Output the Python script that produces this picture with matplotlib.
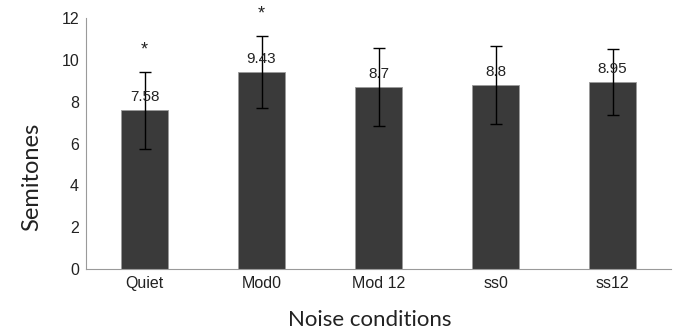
import matplotlib
matplotlib.use("Agg")
import matplotlib.pyplot as plt
import numpy as np

conditions = ["Quiet", "Mod0", "Mod 12", "ss0", "ss12"]
means = [7.58, 9.43, 8.7, 8.8, 8.95]
errors = [1.84, 1.72, 1.85, 1.87, 1.58]
value_labels = ["7.58", "9.43", "8.7", "8.8", "8.95"]
significant = [True, True, False, False, False]

fig = plt.figure(figsize=(6.74, 3.33), dpi=100)
ax = fig.add_axes([0.1276, 0.192, 0.868, 0.754])

x = np.arange(len(conditions))
ax.bar(x, means, width=0.4, color="#3a3a3a", edgecolor="#9a9a9a", linewidth=0.6, zorder=2)
ax.errorbar(x, means, yerr=errors, fmt="none", ecolor="black", elinewidth=1.0,
            capsize=4, capthick=1.0, zorder=3)

for xi, m, lab in zip(x, means, value_labels):
    ax.text(xi, m + 0.62, lab, ha="center", va="center", fontsize=11,
            family="Liberation Sans", color="#222222", zorder=4)

for xi, m, e, sig in zip(x, means, errors, significant):
    if sig:
        ax.text(xi, m + e + 1.05, "*", ha="center", va="center", fontsize=13,
                family="Liberation Sans", color="#222222", clip_on=False)

ax.set_xlim(-0.5, 4.5)
ax.set_ylim(0, 12)
ax.set_yticks(range(0, 13, 2))
ax.set_xticks(x)
ax.set_xticklabels(conditions, family="Liberation Sans", fontsize=11.5)
for t in ax.get_yticklabels():
    t.set_family("Liberation Sans")
    t.set_fontsize(11.5)
ax.tick_params(axis="both", length=0, pad=5, colors="#222222")

for side in ["top", "right"]:
    ax.spines[side].set_visible(False)
ax.spines["left"].set_color("#9a9a9a")
ax.spines["bottom"].set_color("#9a9a9a")

# axis titles placed directly to match the original positions
fig.text(32 / 674, 1 - 177 / 333, "Semitones", rotation=90, ha="center", va="center",
         family="Lato", fontsize=17, color="#222222")
fig.text(370 / 674, 1 - 320 / 333, "Noise conditions", ha="center", va="center",
         family="Lato", fontsize=16, color="#222222")

fig.savefig("out.png", dpi=100)
